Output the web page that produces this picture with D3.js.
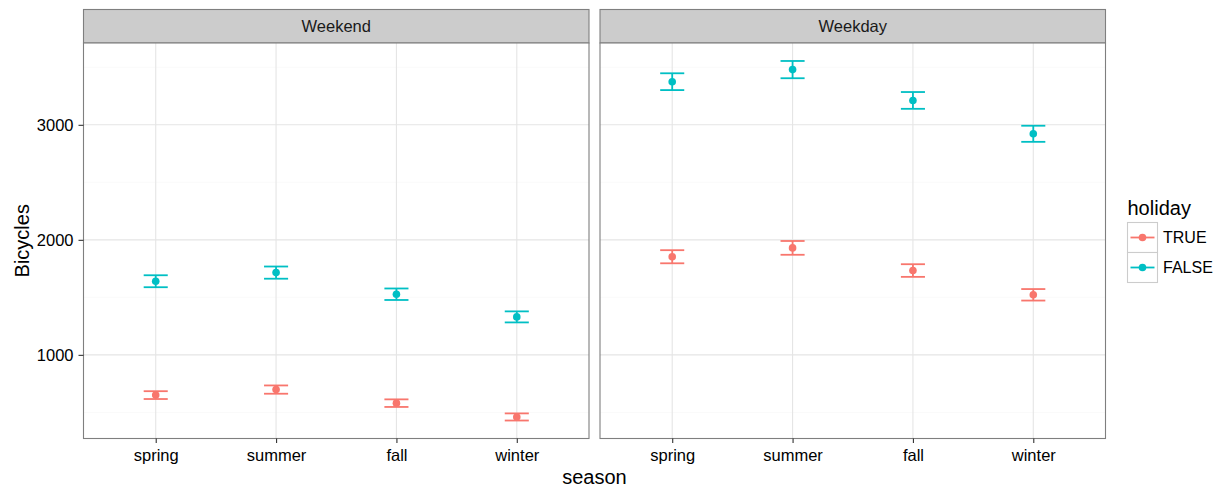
<!DOCTYPE html>
<html>
<head>
<meta charset="utf-8">
<script src="https://cdn.jsdelivr.net/npm/d3@7"></script>
<style>
  body { margin: 0; background: #fff; }
  svg, svg text { font-family: "Liberation Sans", Arial, sans-serif; }
</style>
</head>
<body>
<script>
const seasons = ["spring", "summer", "fall", "winter"];
const panels = ["Weekend", "Weekday"];
const holidays = ["TRUE", "FALSE"];

// mean and half-width of the error bar, per season
const weekendTrueMean = [650, 698, 580, 460];
const weekendTrueErr = [34, 36, 33, 31];
const weekendFalseMean = [1640, 1715, 1527, 1330];
const weekendFalseErr = [52, 53, 50, 48];
const weekdayTrueMean = [1853, 1930, 1733, 1522];
const weekdayTrueErr = [57, 60, 55, 50];
const weekdayFalseMean = [3375, 3480, 3212, 2922];
const weekdayFalseErr = [73, 75, 73, 70];

const yTicks = [1000, 2000, 3000];
const yMinor = [500, 1500, 2500, 3500];

const colors = { "TRUE": "#F8766D", "FALSE": "#00BFC4" };

const rows = [];
function addRows(panel, holiday, means, errs) {
  seasons.forEach((s, i) => rows.push({ panel, holiday, season: s, mean: means[i], lo: means[i] - errs[i], hi: means[i] + errs[i] }));
}
addRows("Weekend", "TRUE", weekendTrueMean, weekendTrueErr);
addRows("Weekend", "FALSE", weekendFalseMean, weekendFalseErr);
addRows("Weekday", "TRUE", weekdayTrueMean, weekdayTrueErr);
addRows("Weekday", "FALSE", weekdayFalseMean, weekdayFalseErr);

const W = 1223, H = 489;
const plot = { left: 83.5, right: 1105.5, top: 43, bottom: 438.5, gap: 11, strip: 33.5 };
const panelW = (plot.right - plot.left - plot.gap) / 2;
const FONT = '"Liberation Sans", Arial, sans-serif';

const svg = d3.select("body").append("svg").attr("width", W).attr("height", H);

// y scale with ggplot-like 5% expansion
const lo = d3.min(rows, d => d.lo), hi = d3.max(rows, d => d.hi);
const pad = (hi - lo) * 0.05;
const y = d3.scaleLinear().domain([lo - pad, hi + pad]).range([plot.bottom, plot.top]);

const x = d3.scalePoint().domain(seasons).range([0, panelW]).padding(0.6);
const capW = x.step() * 0.2;

panels.forEach((p, pi) => {
  const x0 = plot.left + pi * (panelW + plot.gap);
  const g = svg.append("g").attr("transform", `translate(${x0},0)`);

  // strip
  g.append("rect").attr("x", 0).attr("y", plot.top - plot.strip)
    .attr("width", panelW).attr("height", plot.strip)
    .attr("fill", "#cccccc").attr("stroke", "#7f7f7f").attr("stroke-width", 1.1);
  g.append("text").attr("x", panelW / 2).attr("y", plot.top - plot.strip / 2)
    .attr("dy", "0.35em").attr("text-anchor", "middle")
    .attr("font-size", 16.5).attr("fill", "#1a1a1a").text(p);

  // background + grid
  g.append("rect").attr("x", 0).attr("y", plot.top).attr("width", panelW)
    .attr("height", plot.bottom - plot.top).attr("fill", "#fff");
  g.selectAll(".minor").data(yMinor.filter(v => y(v) > plot.top && y(v) < plot.bottom)).join("line")
    .attr("x1", 0).attr("x2", panelW).attr("y1", d => y(d)).attr("y2", d => y(d))
    .attr("stroke", "#fafafa").attr("stroke-width", 1);
  g.selectAll(".major").data(yTicks).join("line")
    .attr("x1", 0).attr("x2", panelW).attr("y1", d => y(d)).attr("y2", d => y(d))
    .attr("stroke", "#e5e5e5").attr("stroke-width", 1.1);
  g.selectAll(".vmajor").data(seasons).join("line")
    .attr("x1", d => x(d)).attr("x2", d => x(d)).attr("y1", plot.top).attr("y2", plot.bottom)
    .attr("stroke", "#e5e5e5").attr("stroke-width", 1.1);

  // error bars and points
  const data = rows.filter(d => d.panel === p);
  const eb = g.append("g").selectAll("g").data(data).join("g")
    .attr("stroke", d => colors[d.holiday]).attr("stroke-width", 1.8);
  eb.append("line").attr("x1", d => x(d.season)).attr("x2", d => x(d.season))
    .attr("y1", d => y(d.lo)).attr("y2", d => y(d.hi));
  eb.append("line").attr("x1", d => x(d.season) - capW / 2).attr("x2", d => x(d.season) + capW / 2)
    .attr("y1", d => y(d.lo)).attr("y2", d => y(d.lo));
  eb.append("line").attr("x1", d => x(d.season) - capW / 2).attr("x2", d => x(d.season) + capW / 2)
    .attr("y1", d => y(d.hi)).attr("y2", d => y(d.hi));
  g.append("g").selectAll("circle").data(data).join("circle")
    .attr("cx", d => x(d.season)).attr("cy", d => y(d.mean)).attr("r", 3.8)
    .attr("fill", d => colors[d.holiday]);

  // border
  g.append("rect").attr("x", 0).attr("y", plot.top).attr("width", panelW)
    .attr("height", plot.bottom - plot.top).attr("fill", "none")
    .attr("stroke", "#7f7f7f").attr("stroke-width", 1.1);

  // x axis
  const xa = g.append("g").attr("transform", `translate(0,${plot.bottom})`)
    .call(d3.axisBottom(x).tickSize(4.5).tickPadding(6))
    .attr("font-family", FONT).attr("font-size", 16.5);
  xa.select(".domain").remove();
  xa.selectAll("line").attr("stroke", "#333").attr("stroke-width", 1.1);
  xa.selectAll("text").attr("fill", "#000");

  // y axis on left panel
  if (pi === 0) {
    const ya = g.append("g")
      .call(d3.axisLeft(y).tickValues(yTicks).tickFormat(d3.format("d")).tickSize(5).tickPadding(5))
      .attr("font-family", FONT).attr("font-size", 16.5);
    ya.select(".domain").remove();
    ya.selectAll("line").attr("stroke", "#333").attr("stroke-width", 1.1);
    ya.selectAll("text").attr("fill", "#000");
  }
});

// axis titles
svg.append("text").attr("x", (plot.left + plot.right) / 2).attr("y", 484)
  .attr("text-anchor", "middle").attr("font-size", 20).text("season");
svg.append("text").attr("transform", `translate(29,${(plot.top + plot.bottom) / 2}) rotate(-90)`)
  .attr("text-anchor", "middle").attr("font-size", 20).text("Bicycles");

// legend
const lg = svg.append("g").attr("transform", "translate(1127.5,222.5)");
lg.append("text").attr("x", 0).attr("y", -7.5).attr("font-size", 20).text("holiday");
const keys = lg.selectAll("g").data(holidays).join("g")
  .attr("transform", (d, i) => `translate(0,${i * 30})`);
keys.append("rect").attr("width", 30).attr("height", 30)
  .attr("fill", "#fff").attr("stroke", "#cccccc").attr("stroke-width", 1.1);
keys.append("line").attr("x1", 3).attr("x2", 27).attr("y1", 15).attr("y2", 15)
  .attr("stroke", d => colors[d]).attr("stroke-width", 1.8);
keys.append("circle").attr("cx", 15).attr("cy", 15).attr("r", 3.8).attr("fill", d => colors[d]);
keys.append("text").attr("x", 35.5).attr("y", 15).attr("dy", "0.35em")
  .attr("font-size", 16).text(d => d);
</script>
</body>
</html>
